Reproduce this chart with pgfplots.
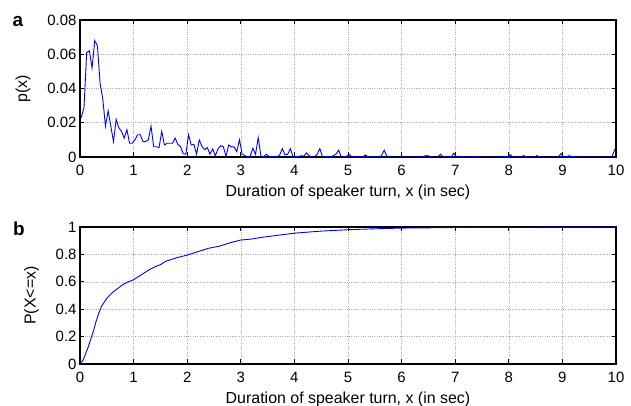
\documentclass[border=0pt]{standalone}
\usepackage{fontspec}
\setmainfont{Liberation Sans}
\usepackage{pgfplots}
\pgfplotsset{compat=1.18}
\definecolor{lineBlue}{RGB}{0,0,255}

\pgfplotsset{
  turnstyle/.style={
    scale only axis, width=536bp, height=137bp,
    anchor=south west,
    xmin=0, xmax=10, xtick={0,...,10},
    tick align=inside,
    major tick length=4.5bp,
    axis line style={line width=1.2pt, black},
    tick style={black, line width=0.7pt},
    grid=major,
    major grid style={gray!65, line width=0.5pt, dash pattern=on 0.7bp off 1.6bp},
    tick label style={font=\fontsize{15}{16}\selectfont},
    label style={font=\fontsize{16}{17}\selectfont},
    xticklabel style={yshift=-4.5bp},
    xlabel style={yshift=-3bp},
    ylabel shift=10bp,
    /pgf/number format/assume math mode=true,
    scaled y ticks=false,
    xlabel={Duration of speaker turn, x (in sec)},
  }
}

\begin{document}
\begin{tikzpicture}
\useasboundingbox (0bp,0bp) rectangle (631bp,406bp);

\begin{axis}[turnstyle, at={(80bp,249bp)},
  ymin=0, ymax=0.08, ytick={0,0.02,0.04,0.06,0.08},
  yticklabels={0,0.02,0.04,0.06,0.08},
  ylabel={p(x)}]
\addplot[no marks, lineBlue, line width=0.9pt] table[row sep=\\] {
0.025 0.023\\ 0.075 0.029\\ 0.125 0.061\\ 0.175 0.062\\ 0.225 0.052\\
0.275 0.068\\ 0.325 0.065\\ 0.375 0.043\\ 0.425 0.034\\ 0.475 0.018\\
0.525 0.027\\ 0.575 0.018\\ 0.625 0.009\\ 0.675 0.022\\ 0.725 0.017\\
0.775 0.015\\ 0.825 0.011\\ 0.875 0.016\\ 0.925 0.008\\ 0.975 0.008\\
1.025 0.010\\ 1.075 0.013\\ 1.125 0.013\\ 1.175 0.009\\ 1.225 0.009\\
1.275 0.010\\ 1.325 0.018\\ 1.375 0.006\\ 1.425 0.006\\ 1.475 0.0055\\
1.525 0.015\\ 1.575 0.007\\ 1.625 0.008\\ 1.675 0.008\\ 1.725 0.008\\
1.775 0.011\\ 1.825 0.0074\\ 1.875 0.006\\ 1.925 0.002\\ 1.975 0.0016\\
2.025 0.013\\ 2.075 0.007\\ 2.125 0.0074\\ 2.175 0.0016\\ 2.225 0.010\\
2.275 0.0062\\ 2.325 0.0043\\ 2.375 0.0055\\ 2.425 0.0016\\ 2.475 0.0047\\
2.525 0.0008\\ 2.575 0.0047\\ 2.625 0.0066\\ 2.675 0.0059\\ 2.725 0.0004\\
2.775 0.007\\ 2.825 0.0059\\ 2.875 0.0059\\ 2.925 0.0031\\ 2.975 0.0101\\
3.025 0.0016\\ 3.075 0.0008\\ 3.125 0\\ 3.175 0.0004\\ 3.225 0.0051\\
3.275 0.0016\\ 3.325 0.0113\\ 3.375 0.0006\\ 3.425 0\\ 3.475 0.0016\\
3.525 0.0004\\ 3.575 0\\ 3.625 0.0004\\ 3.675 0\\ 3.725 0.0012\\
3.775 0.0049\\ 3.825 0.0012\\ 3.875 0.0016\\ 3.925 0.0049\\ 3.975 0\\
4.025 0.0004\\ 4.075 0\\ 4.125 0.0008\\ 4.175 0.0004\\ 4.225 0.0024\\
4.275 0.0008\\ 4.325 0\\ 4.375 0\\ 4.425 0.0016\\ 4.475 0.0049\\
4.525 0\\ 4.575 0\\ 4.625 0.0004\\ 4.675 0\\ 4.725 0.0008\\
4.775 0.0016\\ 4.825 0.0040\\ 4.875 0\\ 4.925 0\\ 4.975 0.0004\\
5.025 0.0016\\ 5.075 0\\ 5.125 0\\ 5.175 0.0004\\ 5.225 0\\
5.275 0\\ 5.325 0.0012\\ 5.375 0\\ 5.425 0\\ 5.475 0.0004\\
5.525 0\\ 5.575 0\\ 5.625 0.0008\\ 5.675 0.0040\\ 5.725 0.0004\\
5.775 0\\ 6.375 0\\ 6.425 0.0006\\ 6.475 0.0008\\ 6.525 0.0004\\
6.575 0\\ 6.675 0\\ 6.725 0.0016\\ 6.775 0\\ 6.925 0\\
6.975 0.0023\\ 7.025 0\\ 7.075 0\\ 7.125 0.0004\\ 7.175 0\\
7.325 0\\ 7.375 0.0004\\ 7.425 0\\ 7.875 0\\ 7.925 0.0004\\
7.975 0\\ 8.025 0.0014\\ 8.075 0\\ 8.225 0\\ 8.275 0.0008\\
8.325 0\\ 8.475 0\\ 8.525 0.0008\\ 8.575 0\\ 8.925 0\\
8.975 0.0020\\ 9.025 0\\ 9.075 0\\ 9.125 0.0008\\ 9.175 0\\
9.225 0.0004\\ 9.275 0\\ 9.925 0\\ 9.975 0.0045\\
};
\end{axis}

\begin{axis}[turnstyle, at={(80bp,42bp)},
  ymin=0, ymax=1, ytick={0,0.2,0.4,0.6,0.8,1},
  yticklabels={0,0.2,0.4,0.6,0.8,1},
  ylabel={P(X<=x)}]
\addplot[no marks, lineBlue, line width=0.9pt] table[row sep=\\] {
0.02 0.01\\ 0.06 0.03\\ 0.10 0.07\\ 0.15 0.12\\ 0.20 0.18\\
0.25 0.24\\ 0.30 0.31\\ 0.35 0.37\\ 0.40 0.42\\ 0.45 0.45\\
0.50 0.48\\ 0.60 0.52\\ 0.70 0.55\\ 0.80 0.58\\ 0.90 0.60\\
1.00 0.615\\ 1.10 0.64\\ 1.20 0.665\\ 1.30 0.69\\ 1.40 0.71\\
1.50 0.725\\ 1.60 0.75\\ 1.80 0.775\\ 2.00 0.795\\ 2.20 0.82\\
2.40 0.845\\ 2.60 0.86\\ 2.80 0.885\\ 3.00 0.905\\ 3.20 0.912\\
3.40 0.925\\ 3.60 0.935\\ 3.80 0.945\\ 4.00 0.955\\ 4.50 0.97\\
5.00 0.98\\ 5.50 0.987\\ 6.00 0.992\\ 7.00 0.996\\ 8.00 0.998\\
9.00 0.999\\ 10.00 1.0\\
};
\end{axis}

\node[font=\fontsize{19}{20}\selectfont\bfseries] at (18bp,384bp) {a};
\node[font=\fontsize{19}{20}\selectfont\bfseries] at (19bp,177bp) {b};
\end{tikzpicture}
\end{document}
